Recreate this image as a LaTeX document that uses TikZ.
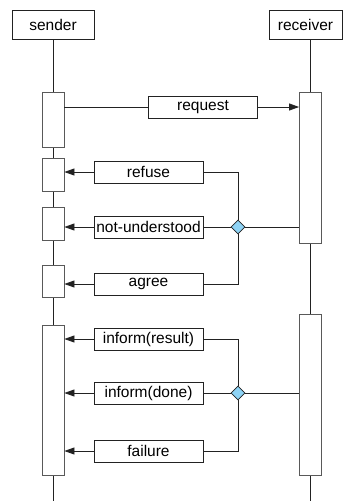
\documentclass[tikz,border=0pt]{standalone}
\usepackage{fontspec}
\setmainfont{Liberation Sans}
\usetikzlibrary{shapes.geometric,arrows.meta}
\definecolor{lc}{HTML}{222222}
\definecolor{dfill}{HTML}{8ED3F5}
\begin{document}
\begin{tikzpicture}[x=1pt,y=-1pt,
  actor/.style={draw=lc,line width=0.8pt,fill=white,minimum height=29pt,inner sep=0pt,font=\fontsize{15.5}{17}\selectfont},
  bar/.style={draw=black!65,line width=0.8pt,fill=white,minimum width=22pt,inner sep=0pt},
  msg/.style={draw=lc,line width=0.8pt,fill=white,minimum width=109pt,minimum height=22pt,inner sep=0pt,font=\fontsize{15.5}{17}\selectfont},
  life/.style={draw=lc,line width=0.8pt},
  conn/.style={draw=lc,line width=0.8pt},
  arr/.style={conn,-{Triangle[length=10pt,width=7pt]}},
  choice/.style={diamond,draw=lc,line width=0.8pt,fill=dfill,inner sep=0pt,minimum width=14pt,minimum height=14pt}]
\useasboundingbox (0,0) rectangle (345,501);
% actors
\node[actor,minimum width=82pt] (snd) at (53,24.5) {sender};
\node[actor,minimum width=73pt] (rcv) at (305.5,24.5) {receiver};
\coordinate (sEnd) at (53,501);
\coordinate (rEnd) at (310.5,501);
\draw[life] (snd.south) -- (sEnd);
\draw[life] (rcv.south -| rEnd) -- (rEnd);
% activation bars
\node[bar,minimum height=55pt] (s1) at (53,119.5) {};
\node[bar,minimum height=33pt] (s2) at (53,174.5) {};
\node[bar,minimum height=33pt] (s3) at (53,223.5) {};
\node[bar,minimum height=32pt] (s4) at (53,281) {};
\node[bar,minimum height=150pt] (s5) at (53,400) {};
\node[bar,minimum height=151pt] (r1) at (310.5,167.5) {};
\node[bar,minimum height=161pt] (r2) at (310.5,394.5) {};
% messages
\node[msg] (req) at (203,107) {request};
\draw[conn] (s1.east |- req) -- (req.west);
\draw[arr] (req.east) -- (req.east -| r1.west);
\node[msg] (ref) at (148.5,172) {refuse};
\node[msg] (nu) at (148.5,227) {not-understood};
\node[msg] (agr) at (148.5,284) {agree};
\node[choice] (d1) at (238,227) {};
\draw[conn] (r1.west |- d1) -- (d1.east);
\draw[conn] (d1.north) |- (ref.east);
\draw[conn] (d1.west) -- (nu.east);
\draw[conn] (d1.south) |- (agr.east);
\draw[arr] (ref.west) -- (ref.west -| s2.east);
\draw[arr] (nu.west) -- (nu.west -| s3.east);
\draw[arr] (agr.west) -- (agr.west -| s4.east);
\node[msg] (inr) at (148.5,339) {inform(result)};
\node[msg] (ind) at (148.5,393) {inform(done)};
\node[msg] (fai) at (148.5,451) {failure};
\node[choice] (d2) at (238,393) {};
\draw[conn] (r2.west |- d2) -- (d2.east);
\draw[conn] (d2.north) |- (inr.east);
\draw[conn] (d2.west) -- (ind.east);
\draw[conn] (d2.south) |- (fai.east);
\draw[arr] (inr.west) -- (inr.west -| s5.east);
\draw[arr] (ind.west) -- (ind.west -| s5.east);
\draw[arr] (fai.west) -- (fai.west -| s5.east);
\end{tikzpicture}
\end{document}
